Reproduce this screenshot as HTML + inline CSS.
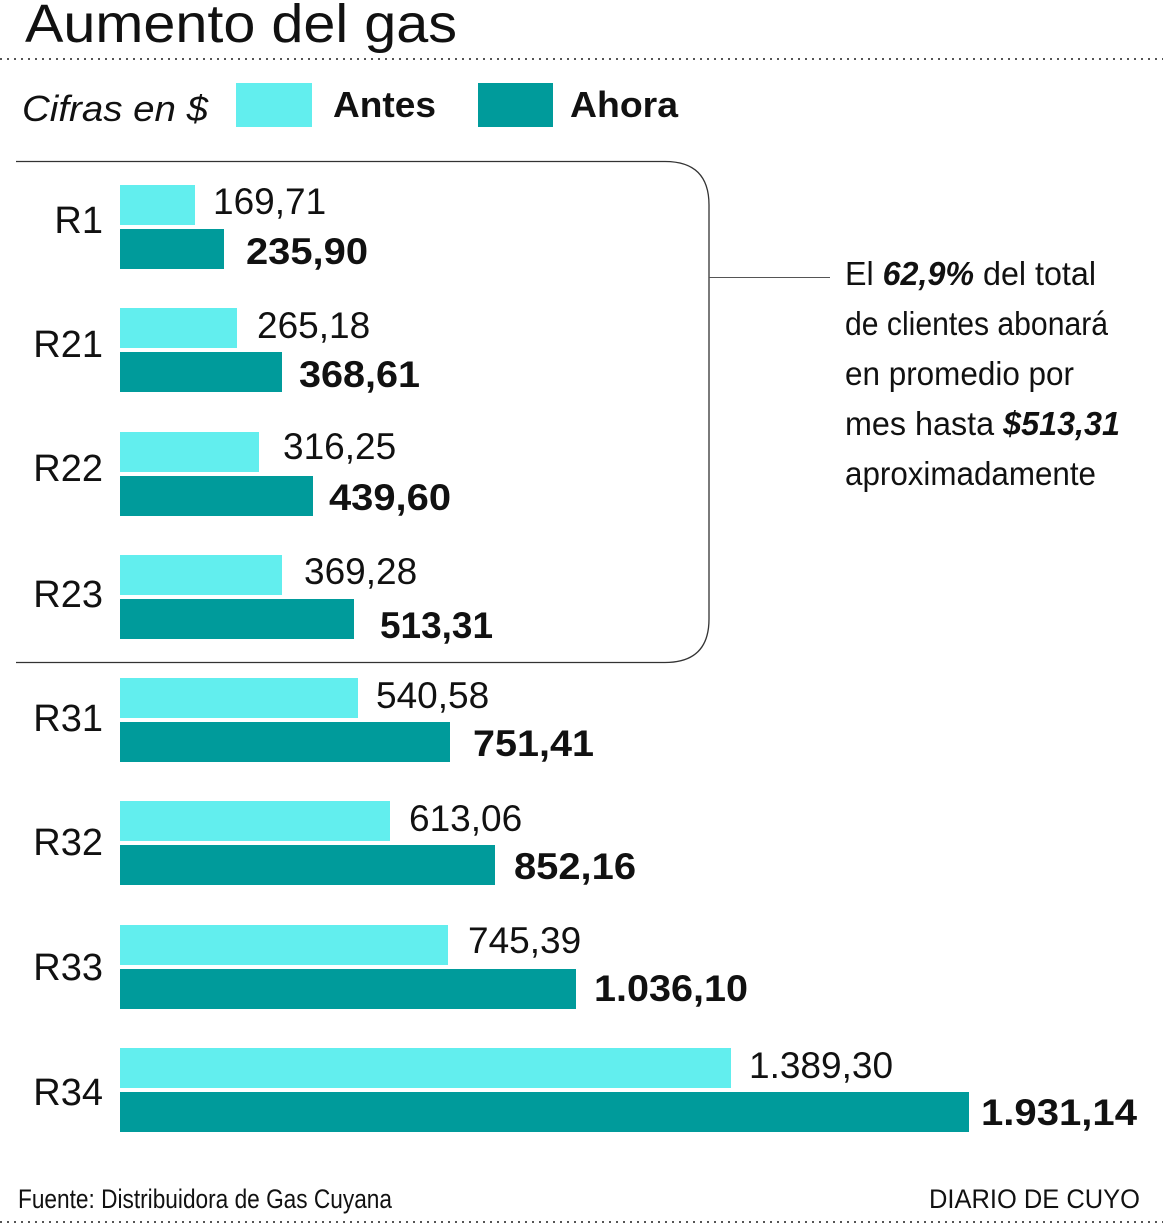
<!DOCTYPE html>
<html><head><meta charset="utf-8"><style>
html,body{margin:0;padding:0;background:#fff;}
svg{display:block;}
text{font-family:"Liberation Sans",Arial,sans-serif;fill:#111;}
.n{font-family:"Liberation Sans Narrow","Liberation Sans",sans-serif;}
</style></head><body>
<svg width="1163" height="1226" viewBox="0 0 1163 1226" xmlns="http://www.w3.org/2000/svg">
<rect width="1163" height="1226" fill="#fff"/>
<text x="25" y="42" font-size="54" textLength="432" lengthAdjust="spacingAndGlyphs">Aumento del gas</text>
<line x1="0" y1="59" x2="1163" y2="59" stroke="#555" stroke-width="2" stroke-dasharray="2,5"/>
<text x="22" y="121" font-size="36" font-style="italic" textLength="186" lengthAdjust="spacingAndGlyphs">Cifras en $</text>
<rect x="236" y="83" width="76" height="44" fill="#62eeee"/>
<text x="333" y="117" font-size="36" font-weight="bold" textLength="103" lengthAdjust="spacingAndGlyphs">Antes</text>
<rect x="478" y="83" width="75" height="44" fill="#009b9b"/>
<text x="570" y="117" font-size="36" font-weight="bold" textLength="108" lengthAdjust="spacingAndGlyphs">Ahora</text>
<path d="M16 161.5 H665 Q709 161.5 709 205 V619 Q709 662.5 665 662.5 H16" fill="none" stroke="#333" stroke-width="1.3"/>
<line x1="709" y1="277.5" x2="830" y2="277.5" stroke="#555" stroke-width="1"/>
<g font-size="38">
<text x="103" y="233" text-anchor="end">R1</text>
<text x="103" y="357" text-anchor="end">R21</text>
<text x="103" y="481" text-anchor="end">R22</text>
<text x="103" y="607" text-anchor="end">R23</text>
<text x="103" y="731" text-anchor="end">R31</text>
<text x="103" y="855" text-anchor="end">R32</text>
<text x="103" y="980" text-anchor="end">R33</text>
<text x="103" y="1105" text-anchor="end">R34</text>
</g>
<g fill="#62eeee">
<rect x="120" y="185" width="75" height="40"/>
<rect x="120" y="308" width="117" height="40"/>
<rect x="120" y="432" width="139" height="40"/>
<rect x="120" y="555" width="162" height="40"/>
<rect x="120" y="678" width="238" height="40"/>
<rect x="120" y="801" width="270" height="40"/>
<rect x="120" y="925" width="328" height="40"/>
<rect x="120" y="1048" width="611" height="40"/>
</g>
<g fill="#009b9b">
<rect x="120" y="229" width="104" height="40"/>
<rect x="120" y="352" width="162" height="40"/>
<rect x="120" y="476" width="193" height="40"/>
<rect x="120" y="599" width="234" height="40"/>
<rect x="120" y="722" width="330" height="40"/>
<rect x="120" y="845" width="375" height="40"/>
<rect x="120" y="969" width="456" height="40"/>
<rect x="120" y="1092" width="849" height="40"/>
</g>
<g font-size="37">
<text x="213" y="214">169,71</text>
<text x="257" y="338">265,18</text>
<text x="283" y="459">316,25</text>
<text x="304" y="584">369,28</text>
<text x="376" y="708">540,58</text>
<text x="409" y="831">613,06</text>
<text x="468" y="953">745,39</text>
<text x="749" y="1078">1.389,30</text>
</g>
<g font-size="37" font-weight="bold">
<text x="246" y="264" textLength="122" lengthAdjust="spacingAndGlyphs">235,90</text>
<text x="299" y="387" textLength="121" lengthAdjust="spacingAndGlyphs">368,61</text>
<text x="329" y="510" textLength="122" lengthAdjust="spacingAndGlyphs">439,60</text>
<text x="380" y="638" textLength="113" lengthAdjust="spacingAndGlyphs">513,31</text>
<text x="473" y="756" textLength="121" lengthAdjust="spacingAndGlyphs">751,41</text>
<text x="514" y="879" textLength="122" lengthAdjust="spacingAndGlyphs">852,16</text>
<text x="594" y="1001" textLength="154" lengthAdjust="spacingAndGlyphs">1.036,10</text>
<text x="981" y="1125" textLength="156" lengthAdjust="spacingAndGlyphs">1.931,14</text>
</g>
<g class="n" font-size="33">
<text class="n" x="845" y="285" textLength="251" lengthAdjust="spacingAndGlyphs">El <tspan font-weight="bold" font-style="italic">62,9%</tspan> del total</text>
<text class="n" x="845" y="335" textLength="263" lengthAdjust="spacingAndGlyphs">de clientes abonará</text>
<text class="n" x="845" y="385" textLength="229" lengthAdjust="spacingAndGlyphs">en promedio por</text>
<text class="n" x="845" y="435" textLength="275" lengthAdjust="spacingAndGlyphs">mes hasta <tspan font-weight="bold" font-style="italic">$513,31</tspan></text>
<text class="n" x="845" y="485" textLength="251" lengthAdjust="spacingAndGlyphs">aproximadamente</text>
</g>
<text class="n" x="18" y="1208" font-size="27" textLength="374" lengthAdjust="spacingAndGlyphs">Fuente: Distribuidora de Gas Cuyana</text>
<text class="n" x="929" y="1208" font-size="27" textLength="211" lengthAdjust="spacingAndGlyphs">DIARIO DE CUYO</text>
<line x1="0" y1="1222" x2="1163" y2="1222" stroke="#555" stroke-width="2" stroke-dasharray="2,5"/>
</svg>
</body></html>
